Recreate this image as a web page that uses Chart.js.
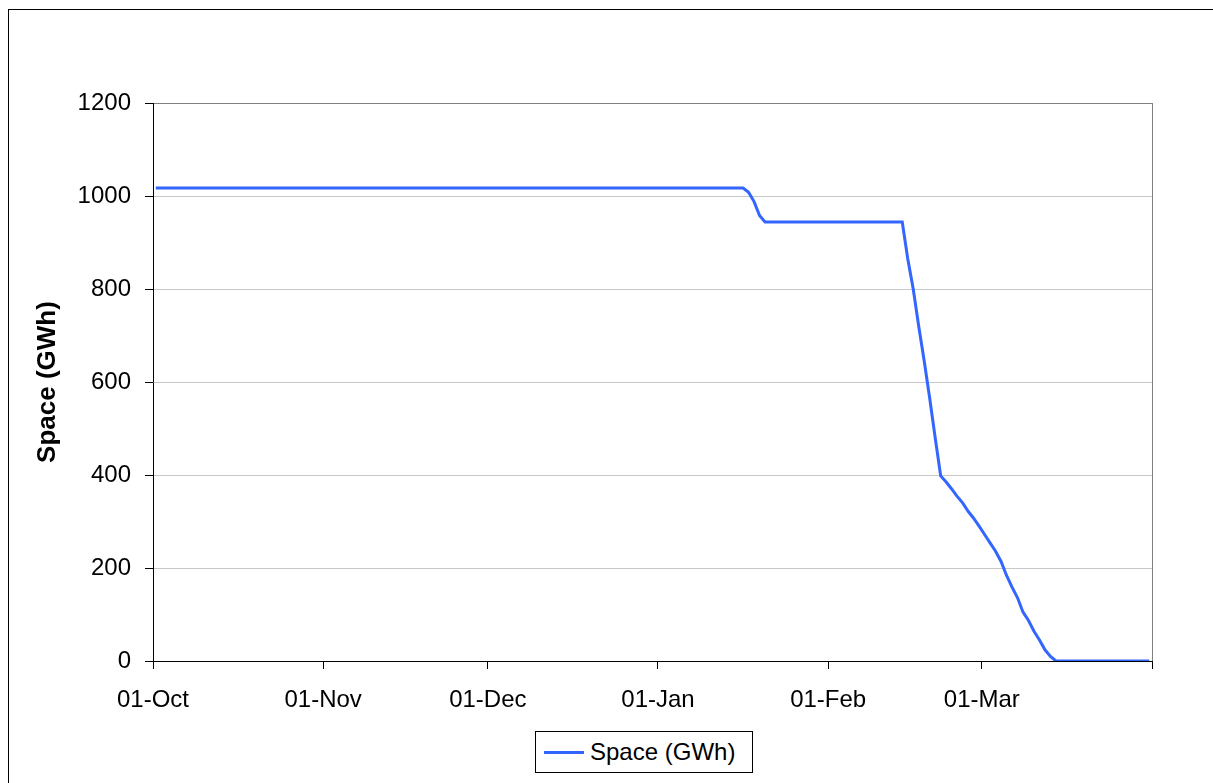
<!DOCTYPE html>
<html>
<head>
<meta charset="utf-8">
<title>Space (GWh)</title>
<script src="https://cdn.jsdelivr.net/npm/chart.js@4.4.1/dist/chart.umd.min.js"></script>
<style>
    html, body {
        margin: 0;
        padding: 0;
        background: #fff;
        overflow: hidden;
    }
    #wrap {
        position: relative;
        width: 1213px;
        height: 783px;
        font-family: 'Liberation Sans', Arial, sans-serif;
    }
    #chart {
        position: absolute;
        left: 0;
        top: 0;
    }
    #frame {
        position: absolute;
        left: 8px;
        top: 9px;
        width: 1300px;
        height: 900px;
        border: 1px solid #000;
        pointer-events: none;
    }
    #legend {
        position: absolute;
        left: 535px;
        top: 731px;
        width: 216px;
        height: 40px;
        border: 1px solid #000;
        background: #fff;
        display: flex;
        align-items: center;
        font-size: 24px;
        color: #000;
    }
    #legend .swatch {
        display: inline-block;
        width: 40px;
        height: 3px;
        margin-left: 8px;
        margin-right: 6px;
        background: #3366ff;
    }
</style>
</head>
<body>
<div id="wrap">
    <div id="frame"></div>
    <canvas id="chart" width="1213" height="783"></canvas>
    <div id="legend"><span class="swatch"></span><span>Space (GWh)</span></div>
</div>
<script>
// season starts 01-Oct, axis runs to 01-Apr
const seasonStart = '2006-10-01';

const dates = [
    '2006-10-01', '2007-01-16', '2007-01-17', '2007-01-18', '2007-01-19', '2007-01-20',
    '2007-02-14', '2007-02-15', '2007-02-16', '2007-02-17', '2007-02-18', '2007-02-19',
    '2007-02-20', '2007-02-21', '2007-02-22', '2007-02-23', '2007-02-24', '2007-02-25',
    '2007-02-26', '2007-02-27', '2007-02-28', '2007-03-01', '2007-03-02', '2007-03-03',
    '2007-03-04', '2007-03-05', '2007-03-06', '2007-03-07', '2007-03-08', '2007-03-09',
    '2007-03-10', '2007-03-11', '2007-03-12', '2007-03-13', '2007-03-14', '2007-03-31'
];

const spaceGWh = [
    1017, 1017, 1008, 988, 958, 944,
    944, 865, 800, 720, 645, 565,
    480, 398, 385, 370, 354, 340,
    322, 307, 290, 272, 254, 236,
    214, 184, 159, 136, 105, 87,
    64, 45, 24, 10, 0, 0
];

const tickDates = ['2006-10-01', '2006-11-01', '2006-12-01', '2007-01-01', '2007-02-01', '2007-03-01', '2007-04-01'];
const tickLabels = ['01-Oct', '01-Nov', '01-Dec', '01-Jan', '01-Feb', '01-Mar', ''];

const yTicks = [0, 200, 400, 600, 800, 1000, 1200];

const DAY = 86400000;
const dayOffset = d => Math.round((Date.parse(d) - Date.parse(seasonStart)) / DAY);

const tickDays = tickDates.map(dayOffset);
// each day's point sits in the middle of its day slot
const points = dates.map((d, i) => ({ x: dayOffset(d) + 0.5, y: spaceGWh[i] }));

Chart.defaults.font.family = "'Liberation Sans', Arial, sans-serif";
Chart.defaults.color = '#000';

const plotFrame = {
    id: 'plotFrame',
    beforeDatasetsDraw(chart) {
        const { ctx, chartArea } = chart;
        ctx.save();
        ctx.strokeStyle = '#808080';
        ctx.lineWidth = 1;
        ctx.beginPath();
        ctx.moveTo(chartArea.right + 0.5, chartArea.top);
        ctx.lineTo(chartArea.right + 0.5, chartArea.bottom);
        ctx.stroke();
        ctx.restore();
    }
};

new Chart(document.getElementById('chart'), {
    type: 'line',
    data: {
        datasets: [{
            label: 'Space (GWh)',
            data: points,
            borderColor: '#3366ff',
            borderWidth: 3,
            pointRadius: 0,
            tension: 0,
            fill: false
        }]
    },
    options: {
        responsive: false,
        devicePixelRatio: 1,
        animation: false,
        layout: {
            padding: { top: 103, right: 61, left: 0, bottom: 0 }
        },
        plugins: {
            legend: { display: false },
            tooltip: { enabled: false }
        },
        scales: {
            x: {
                type: 'linear',
                min: tickDays[0],
                max: tickDays[tickDays.length - 1],
                afterFit: scale => { scale.height = 122; },
                afterBuildTicks: scale => {
                    scale.ticks = tickDays.map(v => ({ value: v }));
                },
                grid: {
                    drawOnChartArea: false,
                    tickColor: '#000',
                    tickLength: 8
                },
                border: { color: '#000', width: 1 },
                ticks: {
                    autoSkip: false,
                    maxRotation: 0,
                    padding: 17,
                    font: { size: 24 },
                    callback: value => {
                        const i = tickDays.indexOf(value);
                        return i >= 0 ? tickLabels[i] : '';
                    }
                }
            },
            y: {
                min: yTicks[0],
                max: yTicks[yTicks.length - 1],
                afterFit: scale => { scale.width = 153; },
                afterBuildTicks: scale => {
                    scale.ticks = yTicks.map(v => ({ value: v }));
                },
                grid: {
                    color: ctx => ctx.tick && ctx.tick.value === 1200 ? '#808080' : '#c8c8c8',
                    tickColor: '#000',
                    tickLength: 8
                },
                border: { color: '#000', width: 1 },
                ticks: {
                    padding: 14,
                    font: { size: 24 },
                    callback: value => String(value)
                },
                title: {
                    display: true,
                    text: 'Space (GWh)',
                    font: { size: 26, weight: 'bold' },
                    padding: { top: 32, bottom: 0 }
                }
            }
        }
    },
    plugins: [plotFrame]
});
</script>
</body>
</html>
